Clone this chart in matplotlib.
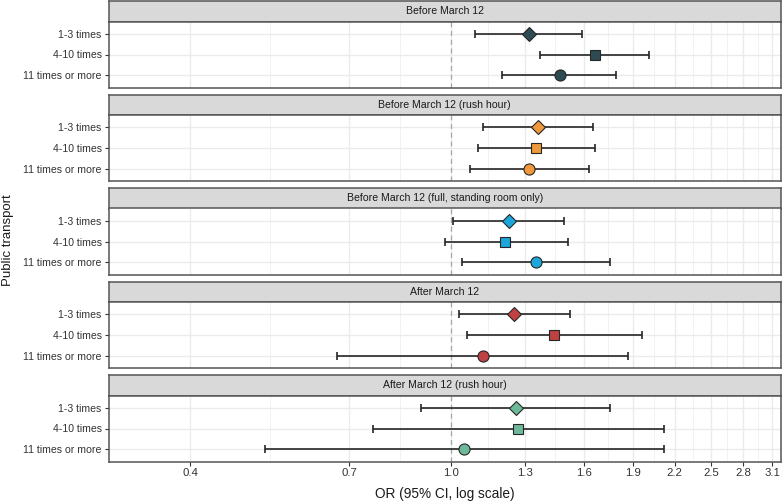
import numpy as np
import matplotlib
matplotlib.use("Agg")
import matplotlib.pyplot as plt
from matplotlib.ticker import FixedLocator, NullFormatter

plt.rcParams['font.family'] = ['Liberation Sans', 'DejaVu Sans']

# Data
panels = ["Before March 12",
          "Before March 12 (rush hour)",
          "Before March 12 (full, standing room only)",
          "After March 12",
          "After March 12 (rush hour)"]
categories = ["1-3 times", "4-10 times", "11 times or more"]

or_est = [[1.32, 1.66, 1.47],
          [1.36, 1.35, 1.32],
          [1.23, 1.21, 1.35],
          [1.25, 1.44, 1.12],
          [1.26, 1.27, 1.05]]
ci_low = [[1.09, 1.37, 1.20],
          [1.12, 1.10, 1.07],
          [1.01, 0.98, 1.04],
          [1.03, 1.06, 0.67],
          [0.90, 0.76, 0.52]]
ci_high = [[1.59, 2.01, 1.79],
           [1.65, 1.66, 1.63],
           [1.49, 1.51, 1.75],
           [1.52, 1.96, 1.87],
           [1.75, 2.12, 2.12]]

colors = ["#2E4A52", "#F0983C", "#1DA6DC", "#BF4242", "#6DBA9A"]
markers = ["D", "s", "o"]
marker_sizes = [7, 7.5, 8]

x_breaks = [0.4, 0.7, 1.0, 1.3, 1.6, 1.9, 2.2, 2.5, 2.8, 3.1]
x_minor = [np.sqrt(a * b) for a, b in zip(x_breaks[:-1], x_breaks[1:])]

W, H = 782, 503
fig = plt.figure(figsize=(W / 100, H / 100), dpi=100)

left, right = 108.5, 781
strip_h, panel_h, gap = 20.5, 66, 7
top = 1.0
border = "#555555"

for p in range(5):
    y0 = top + p * (strip_h + panel_h + gap)
    # strip
    sax = fig.add_axes([left / W, 1 - (y0 + strip_h) / H, (right - left) / W, strip_h / H])
    sax.set_facecolor("#D9D9D9")
    sax.set_xticks([])
    sax.set_yticks([])
    for s in sax.spines.values():
        s.set_color(border)
        s.set_linewidth(1.1)
    sax.text(0.5, 0.5, panels[p], ha="center", va="center", fontsize=7.6,
             color="#1A1A1A", transform=sax.transAxes)

    ax = fig.add_axes([left / W, 1 - (y0 + strip_h + panel_h) / H, (right - left) / W, panel_h / H])
    ax.set_xscale("log")
    ax.set_xlim(0.3, 3.2)
    ax.set_ylim(3.6, 0.4)
    ax.xaxis.set_major_locator(FixedLocator(x_breaks))
    ax.xaxis.set_minor_locator(FixedLocator(x_minor))
    ax.xaxis.set_minor_formatter(NullFormatter())
    ax.grid(True, which="major", color="#EBEBEB", linewidth=1.0)
    ax.grid(True, which="minor", axis="x", color="#F2F2F2", linewidth=0.7)
    ax.set_axisbelow(True)
    ax.tick_params(axis="x", which="minor", length=0)
    ax.tick_params(axis="both", which="major", length=3, width=0.8, color="#333333",
                   labelsize=7.6, labelcolor="#333333", pad=2)
    for s in ax.spines.values():
        s.set_color(border)
        s.set_linewidth(1.1)

    ax.axvline(1.0, color="#A6A6A6", linestyle=(0, (4, 3)), linewidth=0.9, zorder=1)

    yy = np.arange(1, 4)
    ax.set_yticks(yy)
    ax.set_yticklabels(categories)
    if p < 4:
        ax.set_xticklabels([])
        ax.tick_params(axis="x", length=0)
    else:
        ax.set_xticklabels([f"{b:.1f}" for b in x_breaks])
        ax.tick_params(axis="x", labelsize=8.2, pad=1.5)

    for i in range(3):
        est = or_est[p][i]
        ax.errorbar(est, yy[i],
                    xerr=[[est - ci_low[p][i]], [ci_high[p][i] - est]],
                    fmt="none", ecolor="#262626", elinewidth=1.2, capsize=2.6,
                    capthick=1.2, zorder=2)
        ax.plot(est, yy[i], marker=markers[i], markersize=marker_sizes[i],
                markerfacecolor=colors[p], markeredgecolor="#262626",
                markeredgewidth=0.8, linestyle="none", zorder=3)

fig.text((left + right) / 2 / W, 1 - 494 / H, "OR (95% CI, log scale)", ha="center",
         va="center", fontsize=9.8, color="#1A1A1A")
fig.text(8 / W, 1 - 240 / H, "Public transport", rotation=90, ha="center", va="center",
         fontsize=9.5, color="#1A1A1A")

fig.savefig("out.png", dpi=100)
